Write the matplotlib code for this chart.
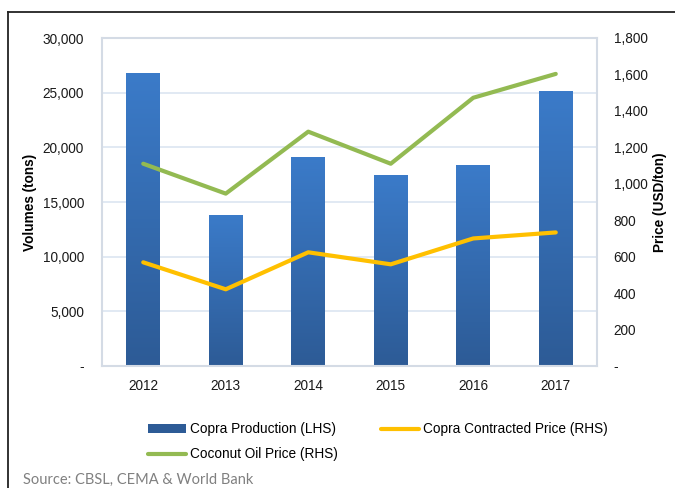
import matplotlib.pyplot as plt
import numpy as np
from matplotlib.lines import Line2D
from matplotlib.patches import Patch
from matplotlib.colors import LinearSegmentedColormap

plt.rcParams['font.family'] = ['Liberation Sans', 'DejaVu Sans']

years = ['2012', '2013', '2014', '2015', '2016', '2017']
copra_production = [26800, 13850, 19150, 17500, 18400, 25150]
coconut_oil_price = [1110, 946, 1286, 1110, 1472, 1603]
copra_contracted_price = [569, 421, 624, 558, 700, 733]

left_ticks = [0, 5000, 10000, 15000, 20000, 25000, 30000]
left_labels = ['-', '5,000', '10,000', '15,000', '20,000', '25,000', '30,000']
right_ticks = [0, 200, 400, 600, 800, 1000, 1200, 1400, 1600, 1800]
right_labels = ['-', '200', '400', '600', '800', '1,000', '1,200', '1,400', '1,600', '1,800']

bar_top = '#3b7bc9'
bar_bottom = '#2d5b96'
green = '#93ba52'
yellow = '#ffc000'
grid_col = '#dbe5f1'
spine_col = '#d4dbe5'

fig = plt.figure(figsize=(6.75, 4.88), dpi=100)
ax = fig.add_axes([102 / 675, 1 - 366 / 488, 495 / 675, 328 / 488])
x = np.arange(len(years))

# bars with a vertical gradient
bars = ax.bar(x, copra_production, width=0.41, color=bar_top, zorder=2)
grad = np.linspace(0, 1, 256).reshape(-1, 1)
cmap = LinearSegmentedColormap.from_list('barg', [bar_bottom, bar_top])
for b in bars:
    x0, y0 = b.get_x(), b.get_y()
    im = ax.imshow(grad, cmap=cmap, aspect='auto', origin='lower',
                   extent=[x0, x0 + b.get_width(), y0, y0 + b.get_height()], zorder=2.1)
    im.set_clip_path(b)

ax.set_xlim(-0.5, len(years) - 0.5)
ax.set_ylim(0, 30000)
ax.set_yticks(left_ticks)
ax.set_yticklabels(left_labels)
ax.set_xticks(x)
ax.set_xticklabels(years)
ax.grid(axis='y', color=grid_col, linewidth=1.2, zorder=0)
ax.set_axisbelow(True)
ax.tick_params(axis='y', length=0, pad=13, labelsize=9.8, colors='#1a1a1a')
ax.tick_params(axis='x', length=0, pad=9, labelsize=9.8, colors='#1a1a1a')
for s in ax.spines.values():
    s.set_color(spine_col)
    s.set_linewidth(1.5)
ax.set_ylabel('Volumes (tons)', fontsize=9.8, fontweight='bold', labelpad=4)

ax2 = ax.twinx()
ax2.plot(x, coconut_oil_price, color=green, linewidth=3, solid_capstyle='round', zorder=3)
ax2.plot(x, copra_contracted_price, color=yellow, linewidth=3, solid_capstyle='round', zorder=3)
ax2.set_ylim(0, 1800)
ax2.set_yticks(right_ticks)
ax2.set_yticklabels(right_labels)
ax2.tick_params(axis='y', length=0, pad=12, labelsize=9.8, colors='#1a1a1a')
for s in ax2.spines.values():
    s.set_visible(False)
ax2.set_ylabel('Price (USD/ton)', fontsize=9.8, fontweight='bold', labelpad=4)

handles = [Patch(facecolor=bar_bottom, edgecolor='none'),
           Line2D([], [], color=green, linewidth=3, solid_capstyle='round'),
           Line2D([], [], color=yellow, linewidth=3, solid_capstyle='round')]
labels = ['Copra Production (LHS)', 'Coconut Oil Price (RHS)', 'Copra Contracted Price (RHS)']
fig.legend(handles, labels, ncol=2, frameon=False, fontsize=9.8,
           loc='upper left', bbox_to_anchor=(136 / 675, 1 - 410 / 488),
           handlelength=2.8, handleheight=0.6, handletextpad=0.25,
           columnspacing=3.2, labelspacing=0.8)

# frame around the chart (runs off the right and bottom edges)
fig.lines.append(Line2D([8 / 675, 1], [1 - 12 / 488, 1 - 12 / 488], transform=fig.transFigure,
                        color='#222222', linewidth=1.3))
fig.lines.append(Line2D([8 / 675, 8 / 675], [1 - 12 / 488, 0], transform=fig.transFigure,
                        color='#222222', linewidth=1.3))

fig.text(23 / 675, 4 / 488, 'Source: CBSL, CEMA & World Bank', fontsize=10.5,
         color='#808080', family=['Lato', 'DejaVu Sans'], va='baseline')

fig.savefig('out.png', dpi=100)
